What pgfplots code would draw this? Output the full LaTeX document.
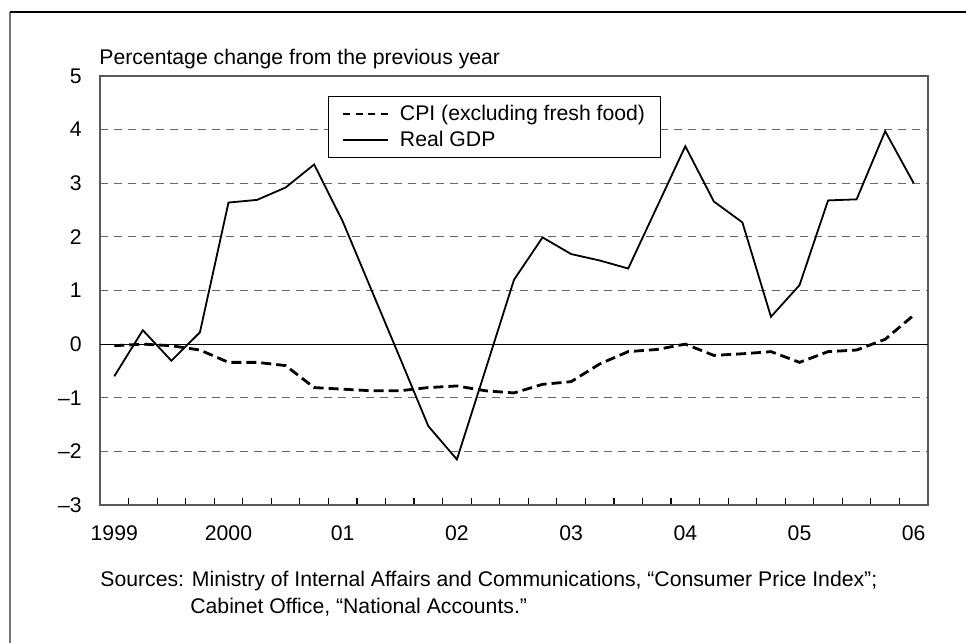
\documentclass[border=0pt]{standalone}
\usepackage{fontspec}
\setmainfont{Liberation Sans}
\usepackage{pgfplots}
\pgfplotsset{compat=1.18}

% quarterly data, 0 = 1999 Q1 ... 28 = 2006 Q1
\begin{document}
\begin{tikzpicture}[font=\fontsize{10.6pt}{12.7pt}\selectfont]
\useasboundingbox (0,0) rectangle (483pt,321.5pt);
\draw[black!55, line width=1pt] (5pt,0pt) -- (5pt,315.5pt);
\draw[black, line width=0.75pt] (5pt,315.5pt) -- (483pt,315.5pt);

\begin{axis}[
    at={(50pt,69pt)}, anchor=south west,
    width=414pt, height=214.5pt, scale only axis,
    xmin=-0.5, xmax=28.5,
    ymin=-3, ymax=5,
    xtick={0,4,...,28},
    xticklabels={1999,2000,01,02,03,04,05,06},
    minor xtick={0.5,1.5,...,27.5},
    ytick={-3,...,5},
    yticklabels={--3,--2,--1,0,1,2,3,4,5},
    xtick pos=bottom, ytick pos=left,
    major tick length=0pt, minor tick length=3.5pt,
    tick align=inside,
    tick style={black, line width=0.6pt},
    xticklabel style={yshift=-6.7pt},
    yticklabel style={xshift=-5.6pt},
    axis line style={black!65, line width=1pt},
    ymajorgrids=true,
    major grid style={black!60, line width=0.6pt, dash pattern=on 4pt off 3pt},
    legend style={at={(0.275,0.953)}, anchor=north west, draw=black,
        line width=0.5pt, inner xsep=7pt, inner ysep=3.5pt, row sep=3pt,
        nodes={inner sep=0.5pt},
        /tikz/every odd column/.append style={column sep=5pt}},
    legend cell align=left,
    legend image code/.code={\draw[#1] (0pt,0pt) -- (22.5pt,0pt);},
]
\draw[black, line width=0.5pt] (axis cs:-0.5,0) -- (axis cs:28.5,0);

\addplot[black, line width=1.4pt, dash pattern=on 5pt off 2.5pt,
    legend image post style={line width=0.9pt, dash pattern=on 3.5pt off 2.8pt}]
coordinates {
(0,-0.03)(1,0.00)(2,-0.03)(3,-0.11)(4,-0.34)(5,-0.34)(6,-0.40)(7,-0.81)
(8,-0.84)(9,-0.87)(10,-0.87)(11,-0.81)(12,-0.78)(13,-0.87)(14,-0.91)
(15,-0.75)(16,-0.70)(17,-0.37)(18,-0.14)(19,-0.10)(20,0.00)(21,-0.21)
(22,-0.18)(23,-0.14)(24,-0.34)(25,-0.14)(26,-0.11)(27,0.09)(28,0.54)
};
\addplot[black, line width=0.9pt]
coordinates {
(0,-0.60)(1,0.26)(2,-0.31)(3,0.22)(4,2.64)(5,2.69)(6,2.92)(7,3.35)
(8,2.29)(9,1.02)(10,-0.25)(11,-1.53)(12,-2.15)(13,-0.48)(14,1.20)
(15,1.99)(16,1.68)(17,1.56)(18,1.41)(19,2.55)(20,3.69)(21,2.66)
(22,2.27)(23,0.51)(24,1.10)(25,2.68)(26,2.70)(27,3.97)(28,3.00)
};
\legend{CPI (excluding fresh food),Real GDP}
\end{axis}

\node[anchor=base west, inner sep=0pt] at (49.5pt,289pt) {Percentage change from the previous year};
\node[anchor=base west, inner sep=0pt] at (50pt,28.15pt) {Sources: Ministry of Internal Affairs and Communications, “Consumer Price Index”;};
\node[anchor=base west, inner sep=0pt] at (95pt,14.85pt) {Cabinet Office, “National Accounts.”};
\end{tikzpicture}
\end{document}
